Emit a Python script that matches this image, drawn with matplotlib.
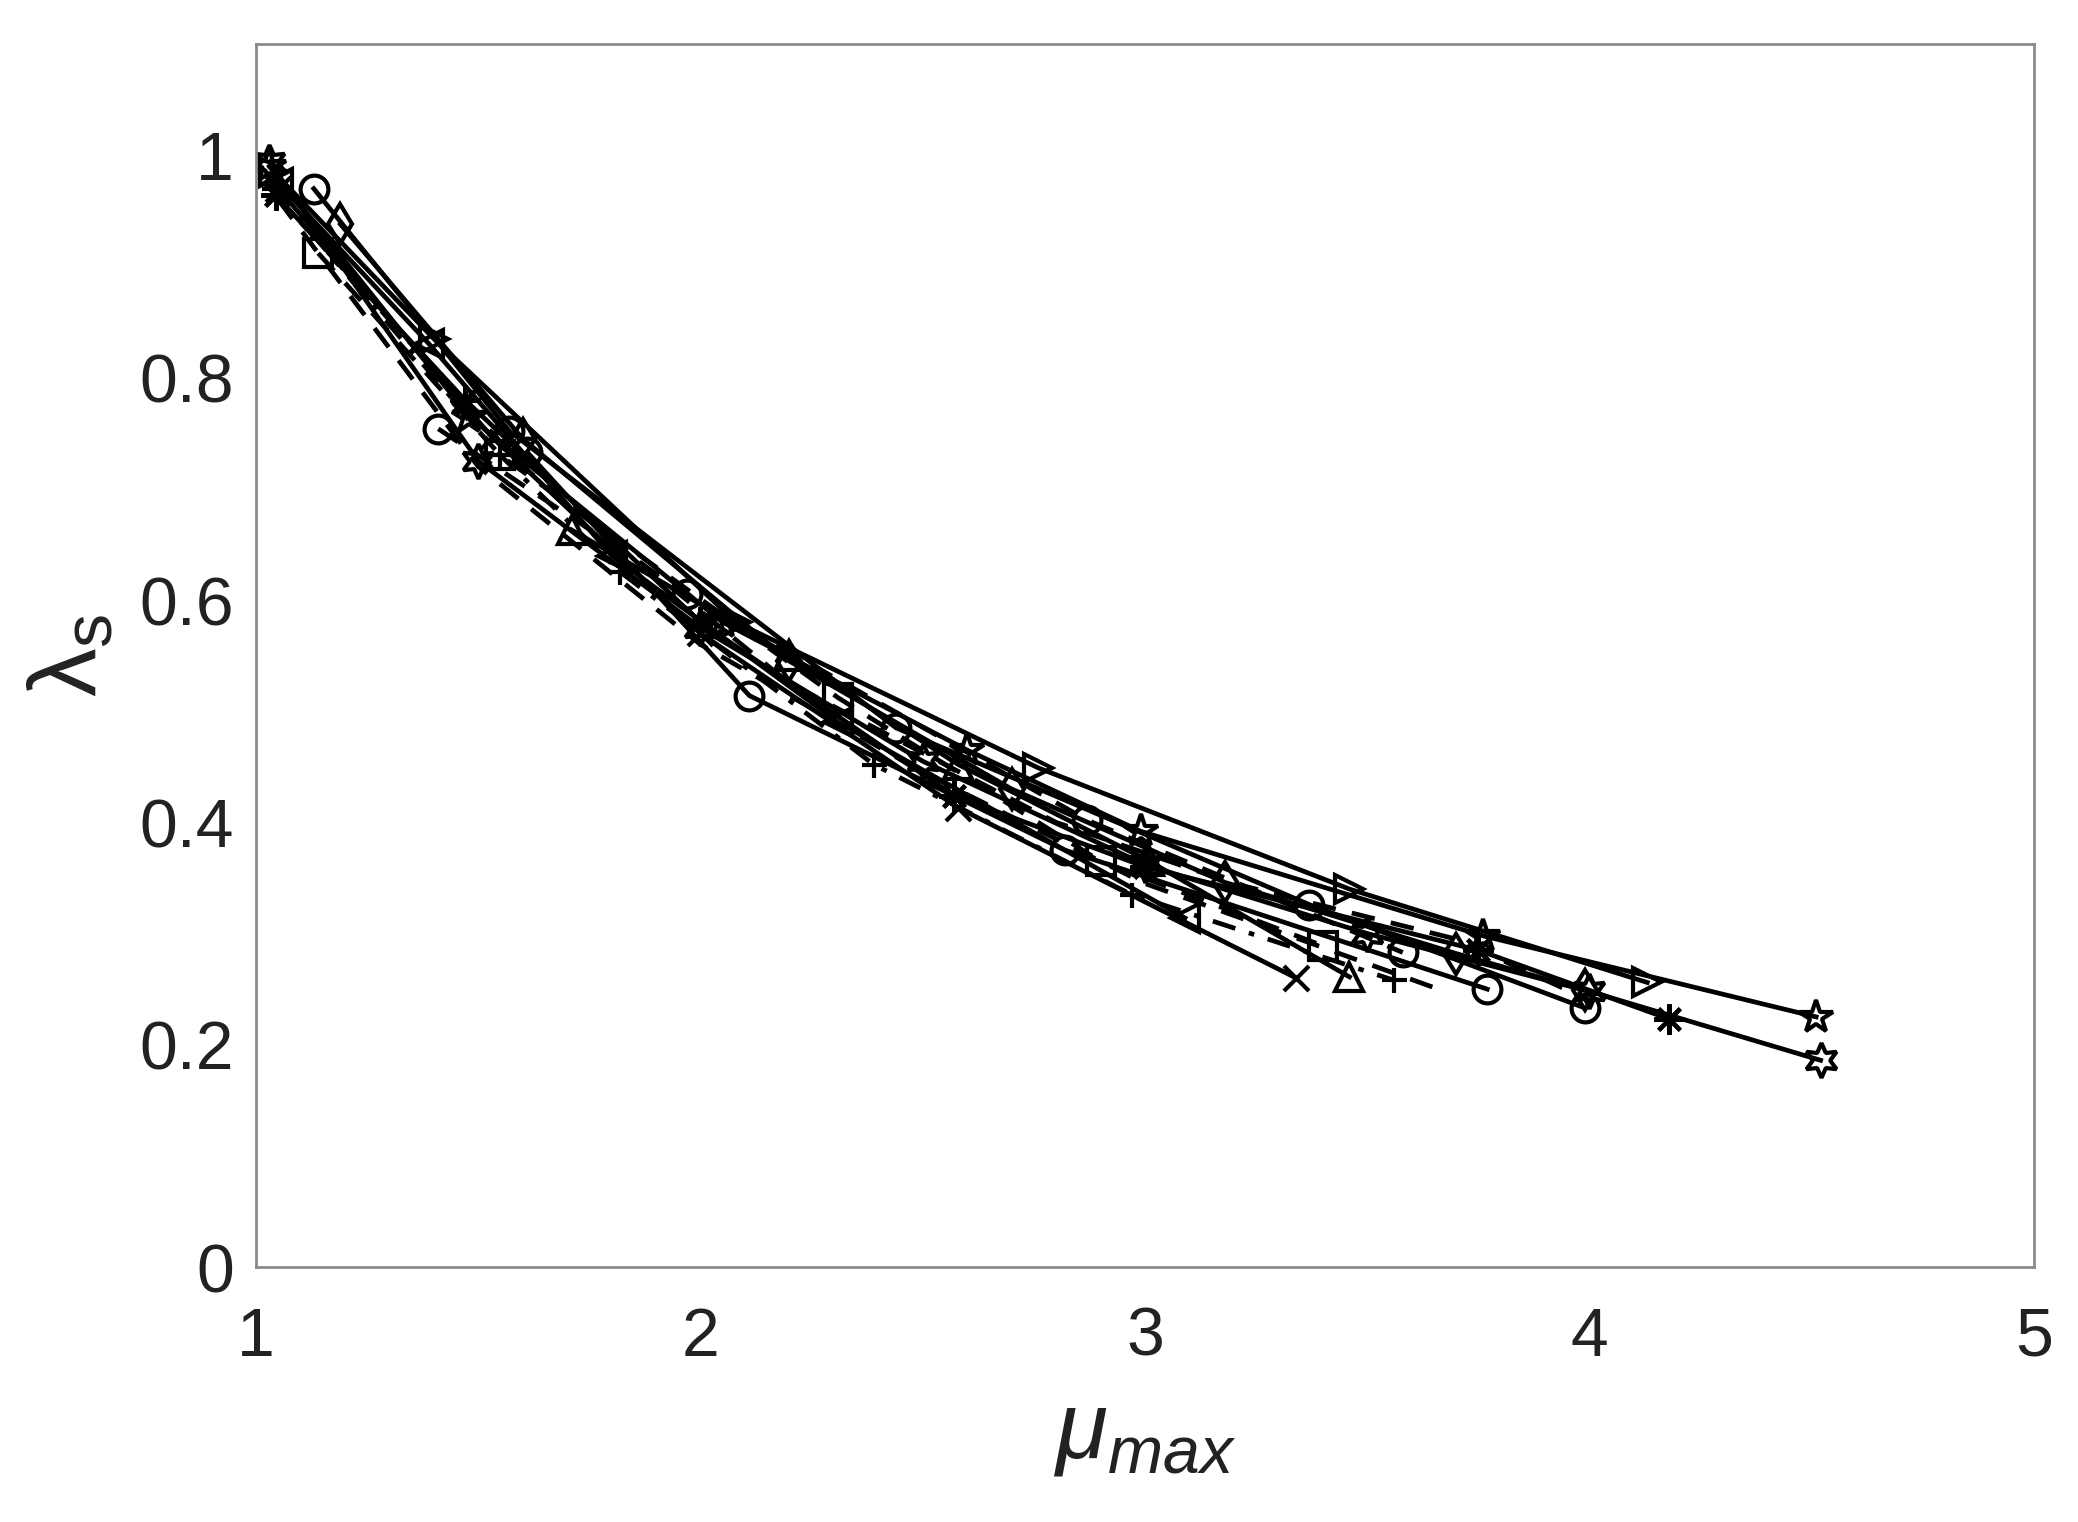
import matplotlib
matplotlib.use("Agg")
import matplotlib.pyplot as plt

plt.rcParams['font.family'] = ['Liberation Sans', 'DejaVu Sans']
plt.rcParams['mathtext.fontset'] = 'custom'
plt.rcParams['mathtext.rm'] = 'Liberation Sans'
plt.rcParams['mathtext.it'] = 'Liberation Sans:italic'

# Each series: (mu_max values, lambda_s values, marker, linestyle)
hex_mu = [1.03, 1.50, 2.00, 2.50, 3.00, 3.50, 4.00, 4.52]
hex_lam = [0.994, 0.725, 0.575, 0.455, 0.362, 0.300, 0.248, 0.186]

pent_mu = [1.03, 1.48, 2.05, 2.60, 2.99, 3.76, 4.51]
pent_lam = [0.990, 0.765, 0.580, 0.465, 0.392, 0.298, 0.225]

ast_mu = [1.045, 1.47, 2.00, 2.57, 3.00, 3.75, 4.18]
ast_lam = [0.964, 0.780, 0.580, 0.424, 0.360, 0.285, 0.223]

circA_mu = [1.13, 1.57, 2.44, 3.37, 3.99]
circA_lam = [0.970, 0.752, 0.485, 0.326, 0.233]

circB_mu = [1.41, 1.97, 2.87, 3.58]
circB_lam = [0.754, 0.605, 0.402, 0.283]

circC_mu = [1.61, 2.11, 2.82, 3.77]
circC_lam = [0.733, 0.514, 0.375, 0.250]

dia_mu = [1.19, 1.60, 2.20, 2.70, 3.18, 3.70, 3.99]
dia_lam = [0.938, 0.745, 0.545, 0.430, 0.346, 0.282, 0.249]

sq_mu = [1.14, 1.55, 2.31, 2.90, 3.40]
sq_lam = [0.912, 0.730, 0.512, 0.365, 0.289]

rtri_mu = [1.04, 1.40, 2.08, 2.76, 3.46, 4.13]
rtri_lam = [0.985, 0.835, 0.580, 0.449, 0.340, 0.256]

ltri_mu = [1.05, 1.39, 1.80, 2.31, 3.09]
ltri_lam = [0.975, 0.830, 0.640, 0.490, 0.314]

utri_mu = [1.71, 2.20, 2.58, 3.01, 3.46]
utri_lam = [0.663, 0.550, 0.452, 0.365, 0.261]

x_mu = [1.05, 1.53, 2.00, 2.58, 3.34]
x_lam = [0.970, 0.747, 0.570, 0.413, 0.260]

plus_mu = [1.04, 1.55, 1.82, 2.39, 2.97, 3.56]
plus_lam = [0.970, 0.730, 0.625, 0.452, 0.335, 0.258]

dash1_mu = [1.05, 1.50, 2.00, 2.50, 3.00, 3.66]
dash1_lam = [0.960, 0.720, 0.560, 0.445, 0.345, 0.250]

dash2_mu = [1.10, 1.60, 2.20, 2.80, 3.20, 3.70, 4.00]
dash2_lam = [0.940, 0.720, 0.525, 0.400, 0.345, 0.295, 0.240]

series = [
    (hex_mu, hex_lam, (6, 1, 0), '-'),
    (pent_mu, pent_lam, '*', '-'),
    (ast_mu, ast_lam, (8, 2, 0), '-'),
    (circA_mu, circA_lam, 'o', '-'),
    (circB_mu, circB_lam, 'o', '--'),
    (circC_mu, circC_lam, 'o', '-'),
    (dia_mu, dia_lam, 'd', '-'),
    (sq_mu, sq_lam, 's', '--'),
    (rtri_mu, rtri_lam, '>', '-'),
    (ltri_mu, ltri_lam, '<', '-'),
    (utri_mu, utri_lam, '^', '-'),
    (x_mu, x_lam, 'x', '-'),
    (plus_mu, plus_lam, '+', '-.'),
    (dash1_mu, dash1_lam, 'None', '--'),
    (dash2_mu, dash2_lam, 'None', '--'),
]

fig = plt.figure(figsize=(20.78, 15.22), dpi=100)
ax = fig.add_axes([0.1232, 0.1675, 0.8556, 0.8035])

for mu, lam, m, ls in series:
    ms = 20
    if m == '*' or m == (6, 1, 0):
        ms = 25
    if m == (8, 2, 0):
        ms = 22
    if m in ('x', '+'):
        ms = 18
    kw = dict(color='black', linewidth=3.4, marker=m, markersize=ms,
              markerfacecolor='none', markeredgecolor='black',
              markeredgewidth=3.0)
    if ls == '--':
        kw['linestyle'] = (0, (5, 3.5))
    elif ls == '-.':
        kw['linestyle'] = (0, (5, 3, 1.2, 3))
    else:
        kw['linestyle'] = '-'
    ax.plot(mu, lam, **kw)

ax.set_xlim(1, 5)
ax.set_ylim(0, 1.1)
ax.set_xticks([1, 2, 3, 4, 5])
ax.set_xticklabels(['1', '2', '3', '4', '5'])
ax.set_yticks([0, 0.2, 0.4, 0.6, 0.8, 1.0])
ax.set_yticklabels(['0', '0.2', '0.4', '0.6', '0.8', '1'])
ax.tick_params(axis='both', length=0, labelsize=49, colors='#222222')
ax.tick_params(axis='x', pad=28)
ax.tick_params(axis='y', pad=16)
for sp in ax.spines.values():
    sp.set_color('#8a8a8a')
    sp.set_linewidth(2)

ax.set_xlabel(r'$\mu_{max}$', fontsize=68, labelpad=14, color='#222222')
ax.set_ylabel(r'$\mathrm{\lambda}_\mathrm{s}$', fontsize=70, labelpad=16, color='#222222')

fig.savefig('out.png', dpi=100, facecolor='white')
